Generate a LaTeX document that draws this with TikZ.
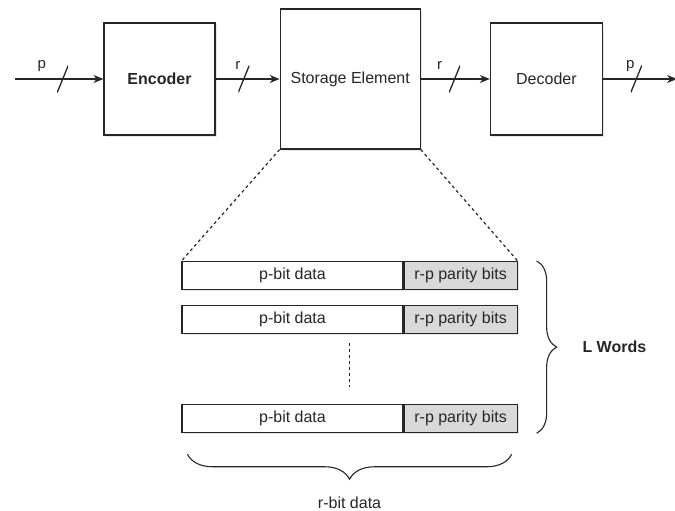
\documentclass[tikz,border=0pt]{standalone}
\usepackage{fontspec}
\setmainfont{Liberation Sans}
\usetikzlibrary{positioning,arrows.meta,calc,shadows,decorations.pathreplacing}
\tikzset{
  >={Stealth[length=10pt,width=8pt]},
  block/.style={
    rectangle,
    draw=black!85, line width=1.2pt,
    fill=white,
    drop shadow={shadow xshift=2pt, shadow yshift=-2pt, opacity=.2},
    minimum width=112pt,
    minimum height=112pt,
    text centered,
    font=\fontsize{16}{19}\selectfont
  },
  line/.style={draw=black!85, line width=1.1pt, ->},
  busmark/.style={
    inner sep=0pt, minimum width=11pt, minimum height=27pt,
    path picture={\draw[-, black!85, line width=1.3pt]
      (path picture bounding box.south west) -- (path picture bounding box.north east);}
  },
  buslbl/.style 2 args={
    label={[anchor=center, xshift=#1, yshift=-1pt, text=black!85,
      font=\fontsize{15}{18}\selectfont]north:#2}
  },
  word/.style={
    rectangle,
    draw=black!85, line width=1.1pt,
    drop shadow={shadow xshift=1.5pt, shadow yshift=-1.5pt, opacity=.2},
    minimum height=28pt,
    inner sep=0pt,
    font=\fontsize{16}{19}\selectfont
  },
  databox/.style={word, minimum width=221pt, fill=white},
  paritybox/.style={word, minimum width=113pt, fill=black!15},
  dashline/.style={draw=black!85, line width=1.2pt, dash pattern=on 3pt off 3pt},
  curly/.style={decorate, decoration={brace, amplitude=#1},
    draw=black!85, line width=1.1pt},
}

\begin{document}
\begin{tikzpicture}[node distance=15pt, text=black!85]
  \useasboundingbox (0,0) rectangle (675pt,-511pt);

  % top chain
  \node[block, minimum width=111pt, font=\fontsize{16}{19}\selectfont\bfseries]
    (enc) at (159.5pt,-79pt) {Encoder};
  \node[block, minimum size=140pt, right=64pt of enc] (sto) {Storage Element};
  \node[block, right=69pt of sto] (dec) {Decoder};
  \coordinate (in) at (15pt,-79pt);
  \coordinate[right=74pt of dec] (out);

  \draw[line] (in) -- node[busmark, pos=.54, buslbl={-21pt}{p}] (b1) {} (enc);
  \draw[line] (enc) -- node[busmark, pos=.44, buslbl={-6pt}{r}] (b2) {} (sto);
  \draw[line] (sto) -- node[busmark, pos=.49, buslbl={-15pt}{r}] (b3) {} (dec);
  \draw[line] (dec) -- node[busmark, pos=.45, buslbl={-6pt}{p}] (b4) {} (out);

  % memory words
  \node[databox] (d1) at (292.5pt,-275.5pt) {p-bit data};
  \node[paritybox, right=0pt of d1] (p1) {r-p parity bits};
  \node[databox, below=of d1] (d2) {p-bit data};
  \node[paritybox, right=0pt of d2] (p2) {r-p parity bits};
  \node[databox, below=70pt of d2] (d3) {p-bit data};
  \node[paritybox, right=0pt of d3] (p3) {r-p parity bits};
  \foreach \i in {1,2,3}
    \draw[black!85, line width=2.6pt] (d\i.north east) -- (d\i.south east);

  \draw[dashline] (sto.south west) -- (d1.north west);
  \draw[dashline] (sto.south east) -- (p1.north east);

  \coordinate (gapt) at ($(d2.south west)!.5!(p2.south east)+(0,-9pt)$);
  \coordinate (gapb) at ($(d3.north west)!.5!(p3.north east)+(0,17pt)$);
  \draw[dashline] (gapt) -- (gapb);

  % braces
  \draw[curly=20pt] ([xshift=19pt]p1.north east) -- ([xshift=19pt]p3.south east)
    node[midway, right=42pt, font=\fontsize{16}{19}\selectfont\bfseries] (lw) {L Words};
  \draw[curly=25pt] ([xshift=-6pt,yshift=-21pt]p3.south east)
    -- ([xshift=6pt,yshift=-21pt]d3.south west)
    node[midway, below=39pt, font=\fontsize{16}{19}\selectfont] (rb) {r-bit data};
\end{tikzpicture}
\end{document}
